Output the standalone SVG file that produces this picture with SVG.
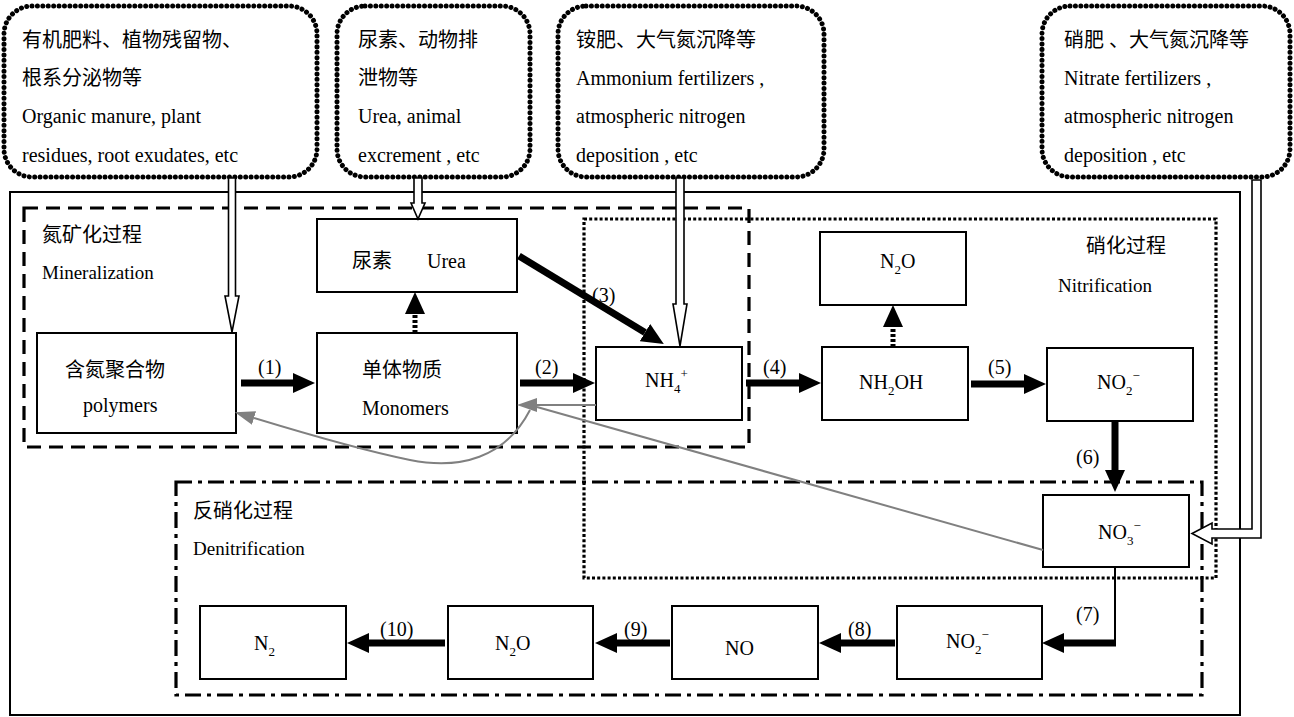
<svg xmlns="http://www.w3.org/2000/svg" width="1294" height="717" viewBox="0 0 1294 717">
<defs>
<style>
text{font-family:"Liberation Serif","Noto Sans CJK SC",serif;fill:#000;}
.t20{font-size:20px;}
.t18{font-size:19px;}
.cj{font-family:"Liberation Serif","Noto Sans CJK SC",sans-serif;font-size:20px;}
.sub{font-size:13px;}
.box{fill:#fff;stroke:#000;stroke-width:2;}
.src{fill:#fff;stroke:#000;stroke-width:5;stroke-dasharray:0.01 5.4;stroke-linecap:round;}
.frame{fill:none;stroke:#000;stroke-width:2;}
.mine{fill:none;stroke:#000;stroke-width:3.2;stroke-dasharray:14 8;}
.nitr{fill:none;stroke:#000;stroke-width:3.2;stroke-dasharray:3 2.2;}
.deni{fill:none;stroke:#000;stroke-width:3.2;stroke-dasharray:16 6 4 6;}
.thick{fill:none;stroke:#000;stroke-width:7;marker-end:url(#blk);}
.dots{fill:none;stroke:#000;stroke-width:5;stroke-dasharray:3 2;marker-end:url(#blk);}
.thin{fill:none;stroke:#000;stroke-width:2;}
.grey{fill:none;stroke:#808080;stroke-width:2;}
.hollow{fill:#fff;stroke:#000;stroke-width:1.6;}
</style>
<marker id="blk" markerUnits="userSpaceOnUse" markerWidth="22" markerHeight="20" viewBox="0 0 22 20" refX="0" refY="10" orient="auto"><path d="M0,0 L22,10 L0,20 Z" fill="#000"/></marker>
<marker id="gry" markerUnits="userSpaceOnUse" markerWidth="20" markerHeight="14" viewBox="0 0 20 14" refX="0" refY="7" orient="auto"><path d="M0,0 L20,7 L0,14 Z" fill="#808080"/></marker>
</defs>
<rect width="1294" height="717" fill="#fff"/>

<rect id="frame" class="frame" x="10" y="192" width="1230" height="523"/>

<g id="region-mineralization">
<rect class="mine" x="24" y="208" width="725" height="239"/>
<text class="cj" x="42" y="242">氮矿化过程</text>
<text class="t18" x="42" y="279">Mineralization</text>
</g>
<g id="region-nitrification">
<rect class="nitr" x="584" y="219" width="632" height="359"/>
<text class="cj" x="1086" y="253">硝化过程</text>
<text class="t18" x="1058" y="292">Nitrification</text>
</g>
<g id="region-denitrification">
<rect class="deni" x="176" y="482" width="1026" height="213"/>
<text class="cj" x="193" y="518">反硝化过程</text>
<text class="t18" x="193" y="555">Denitrification</text>
</g>

<g id="src1">
<rect class="src" x="4" y="6" width="313" height="171" rx="28"/>
<text class="cj" x="22" y="47">有机肥料、植物残留物、</text>
<text class="cj" x="22" y="85">根系分泌物等</text>
<text class="t20" x="22" y="123">Organic manure, plant</text>
<text class="t20" x="22" y="162">residues, root exudates, etc</text>
</g>
<g id="src2">
<rect class="src" x="337" y="6" width="193" height="171" rx="28"/>
<text class="cj" x="358" y="47">尿素、动物排</text>
<text class="cj" x="358" y="85">泄物等</text>
<text class="t20" x="358" y="123">Urea, animal</text>
<text class="t20" x="358" y="162">excrement , etc</text>
</g>
<g id="src3">
<rect class="src" x="558" y="6" width="266" height="171" rx="28"/>
<text class="cj" x="576" y="47">铵肥、大气氮沉降等</text>
<text class="t20" x="576" y="85">Ammonium fertilizers ,</text>
<text class="t20" x="576" y="123">atmospheric nitrogen</text>
<text class="t20" x="576" y="162">deposition , etc</text>
</g>
<g id="src4">
<rect class="src" x="1042" y="6" width="248" height="171" rx="28"/>
<text class="cj" x="1064" y="47">硝肥 、大气氮沉降等</text>
<text class="t20" x="1064" y="85">Nitrate fertilizers ,</text>
<text class="t20" x="1064" y="123">atmospheric nitrogen</text>
<text class="t20" x="1064" y="162">deposition , etc</text>
</g>

<g id="polymers">
<rect class="box" x="37" y="333" width="199" height="100"/>
<text class="cj" x="65" y="377">含氮聚合物</text>
<text class="t20" x="83" y="412">polymers</text>
</g>
<g id="monomers">
<rect class="box" x="317" y="333" width="200" height="100"/>
<text class="cj" x="362" y="377">单体物质</text>
<text class="t20" x="362" y="415">Monomers</text>
</g>
<g id="urea">
<rect class="box" x="317" y="219" width="200" height="73"/>
<text class="cj" x="352" y="268">尿素</text>
<text class="t20" x="427" y="268">Urea</text>
</g>
<g id="nh4">
<rect class="box" x="596" y="347" width="146" height="73"/>
<text class="t20" x="645" y="387">NH<tspan class="sub" dy="6">4</tspan><tspan class="sub" dy="-15">+</tspan></text>
</g>
<g id="nh2oh">
<rect class="box" x="822" y="347" width="146" height="73"/>
<text class="t20" x="859" y="389">NH<tspan class="sub" dy="6">2</tspan><tspan dy="-6">OH</tspan></text>
</g>
<g id="n2o-top">
<rect class="box" x="820" y="232" width="146" height="73"/>
<text class="t20" x="880" y="268">N<tspan class="sub" dy="6">2</tspan><tspan dy="-6">O</tspan></text>
</g>
<g id="no2-top">
<rect class="box" x="1047" y="348" width="146" height="73"/>
<text class="t20" x="1097" y="389">NO<tspan class="sub" dy="6">2</tspan><tspan class="sub" dy="-15">−</tspan></text>
</g>
<g id="no3">
<rect class="box" x="1043" y="495" width="146" height="72"/>
<text class="t20" x="1098" y="539">NO<tspan class="sub" dy="6">3</tspan><tspan class="sub" dy="-15">−</tspan></text>
</g>
<g id="n2">
<rect class="box" x="200" y="606" width="146" height="73"/>
<text class="t20" x="254" y="650">N<tspan class="sub" dy="6">2</tspan></text>
</g>
<g id="n2o-bottom">
<rect class="box" x="448" y="606" width="145" height="73"/>
<text class="t20" x="495" y="650">N<tspan class="sub" dy="6">2</tspan><tspan dy="-6">O</tspan></text>
</g>
<g id="no">
<rect class="box" x="672" y="606" width="146" height="73"/>
<text class="t20" x="725" y="655">NO</text>
</g>
<g id="no2-bottom">
<rect class="box" x="897" y="606" width="145" height="73"/>
<text class="t20" x="946" y="648">NO<tspan class="sub" dy="6">2</tspan><tspan class="sub" dy="-15">−</tspan></text>
</g>

<g id="connectors">
<line class="thick" x1="241" y1="383" x2="293" y2="383"/>
<line class="thick" x1="520" y1="383" x2="573" y2="383"/>
<line class="thick" x1="519" y1="256" x2="645" y2="332.6"/>
<line class="thick" x1="746" y1="383" x2="799" y2="383"/>
<line class="thick" x1="971" y1="384" x2="1024" y2="384"/>
<line class="thick" x1="1115" y1="421" x2="1115" y2="470"/>
<line class="thin" x1="1115" y1="567" x2="1115" y2="646"/>
<line class="thick" x1="1116" y1="643" x2="1064" y2="643"/>
<line class="thick" x1="895" y1="643" x2="841" y2="643"/>
<line class="thick" x1="670" y1="643" x2="617" y2="643"/>
<line class="thick" x1="445" y1="643" x2="369" y2="643"/>
<line class="dots" x1="415" y1="333" x2="415" y2="314"/>
<line class="dots" x1="893" y1="347" x2="893" y2="327"/>
<line class="grey" x1="1043" y1="550" x2="537" y2="407"/>
<line class="grey" x1="596" y1="405" x2="537" y2="405" stroke-width="4" marker-end="url(#gry)"/>
<path class="grey" d="M530,410 C505,458 460,470 410,460 C360,450 300,432 254,418" marker-end="url(#gry)"/>
<path class="hollow" d="M228.5,178 V296 H225 L232,332 L239,296 H235.5 V178 Z"/>
<path class="hollow" d="M414,178 V203 H411 L418,219 L425,203 H422 V178 Z"/>
<path class="hollow" d="M676,178 V304 H673 L680,346 L687,304 H684 V178 Z"/>
<path class="hollow" d="M1252,180 V529 H1212 V523 L1192,533.5 L1212,544 V538 H1261 V180 Z"/>
<text class="t20" x="258" y="374">(1)</text>
<text class="t20" x="535" y="374">(2)</text>
<text class="t20" x="592" y="302">(3)</text>
<text class="t20" x="763" y="374">(4)</text>
<text class="t20" x="988" y="374">(5)</text>
<text class="t20" x="1076" y="464">(6)</text>
<text class="t20" x="1076" y="621">(7)</text>
<text class="t20" x="848" y="636">(8)</text>
<text class="t20" x="624" y="636">(9)</text>
<text class="t20" x="380" y="636">(10)</text>
</g>
</svg>
